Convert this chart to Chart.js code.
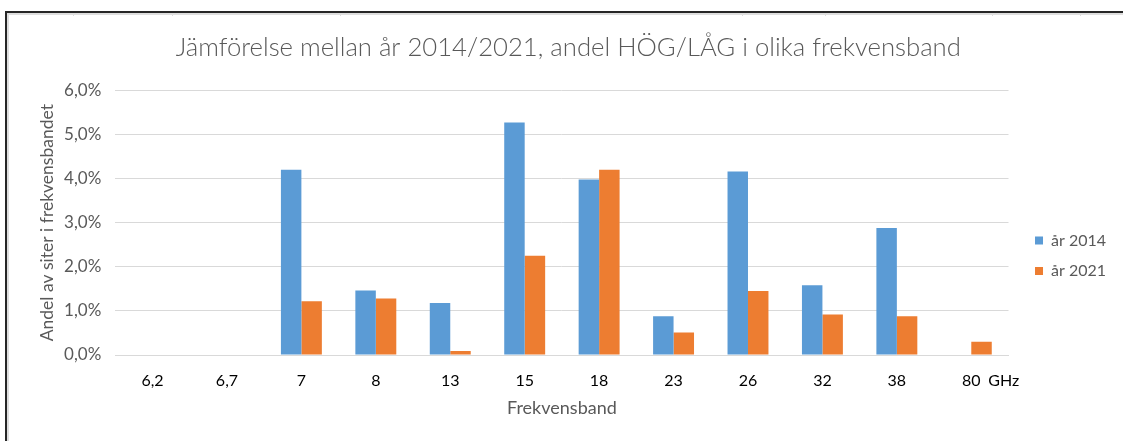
<!DOCTYPE html>
<html>
<head>
<meta charset="utf-8">
<script src="https://cdn.jsdelivr.net/npm/chart.js"></script>
<style>
  body { margin: 0; background: #fff; width: 1123px; height: 441px; overflow: hidden; position: relative; }
  #frame { position: absolute; left: 5px; top: 11px; right: 0; bottom: 0; border-top: 2px solid #262626; border-left: 2px solid #262626; }
  #inner { position: absolute; left: 0; top: 0; right: 0; bottom: 0; border-top: 2px solid #dedede; border-left: 2px solid #dedede; }
  .stub { position: absolute; top: 13px; width: 1px; height: 3px; background: #dedede; }
  #wrap { position: absolute; left: 9px; top: 15px; width: 1114px; height: 426px; }
</style>
</head>
<body>
<div id="frame"><div id="inner"></div></div>
<div class="stub" style="left:73px"></div>
<div class="stub" style="left:172px"></div>
<div class="stub" style="left:340px"></div>
<div class="stub" style="left:742px"></div>
<div class="stub" style="left:825px"></div>
<div class="stub" style="left:992px"></div>
<div class="stub" style="left:1080px"></div>
<div id="wrap"><canvas id="bandChart"></canvas></div>
<script>
// frekvensband (GHz) och andel siter i procent
const categories = ['6,2', '6,7', '7', '8', '13', '15', '18', '23', '26', '32', '38', '80'];
const share2014 = [0, 0, 4.2, 1.46, 1.18, 5.27, 3.98, 0.88, 4.16, 1.58, 2.88, 0];
const share2021 = [0, 0, 1.22, 1.28, 0.09, 2.25, 4.2, 0.51, 1.45, 0.92, 0.88, 0.3];
const yTicks = [0, 1, 2, 3, 4, 5, 6];
const unitText = 'GHz';

const grey = '#595959';
const xFontSize = 16;
const xTickPad = 8;

// skriver "GHz" efter sista kategorin
const unitLabel = {
  id: 'unitLabel',
  afterDraw(chart) {
    const x = chart.scales.x;
    const px = x.getPixelForTick(categories.length - 1);
    const y = x.top + 8 + xTickPad + xFontSize * 0.6;
    const ctx = chart.ctx;
    ctx.save();
    ctx.font = xFontSize + 'px Lato';
    ctx.fillStyle = '#000';
    ctx.textAlign = 'left';
    ctx.textBaseline = 'middle';
    ctx.fillText(unitText, px + 17, y);
    ctx.restore();
  }
};

// flyttar legenden lite åt höger
const legendShift = {
  id: 'legendShift',
  afterLayout(chart) {
    chart.legend.left += 12;
    chart.legend.right += 12;
  }
};

const ctx = document.getElementById('bandChart').getContext('2d');
new Chart(ctx, {
  type: 'bar',
  data: {
    labels: categories,
    datasets: [
      {
        label: 'år 2014',
        data: share2014,
        backgroundColor: '#5B9BD5',
        borderWidth: 0,
      },
      {
        label: 'år 2021',
        data: share2021,
        backgroundColor: '#ED7D31',
        borderWidth: 0,
      },
    ],
  },
  options: {
    responsive: true,
    maintainAspectRatio: false,
    animation: false,
    categoryPercentage: 0.55,
    barPercentage: 1.0,
    layout: {
      padding: { top: 8, left: 23.5, right: 19, bottom: 0 },
    },
    plugins: {
      title: {
        display: true,
        text: 'Jämförelse mellan år 2014/2021, andel HÖG/LÅG i olika frekvensband',
        color: grey,
        font: { family: 'Lato', size: 25.7, weight: 300 },
        padding: { top: 9.5, bottom: 27 },
      },
      legend: {
        position: 'right',
        title: { display: true, text: '', padding: { top: 0, bottom: 33 } },
        labels: {
          boxWidth: 8,
          boxHeight: 8,
          padding: 14.5,
          color: grey,
          font: { family: 'Lato', size: 16 },
        },
      },
      tooltip: { enabled: false },
    },
    scales: {
      x: {
        grid: { display: false },
        border: { color: '#d9d9d9' },
        ticks: {
          color: '#000',
          padding: xTickPad,
          maxRotation: 0,
          autoSkip: false,
          font: { family: 'Lato', size: xFontSize },
        },
        title: {
          display: true,
          text: 'Frekvensband',
          color: grey,
          font: { family: 'Lato', size: 18 },
          padding: { top: -1, bottom: 22.2 },
        },
      },
      y: {
        min: 0,
        max: 6,
        afterBuildTicks: (axis) => {
          axis.ticks = yTicks.map((v) => ({ value: v }));
        },
        ticks: {
          color: grey,
          padding: 14,
          font: { family: 'Lato', size: 17 },
          callback: (v) => v.toFixed(1).replace('.', ',') + '%',
        },
        grid: { color: '#d9d9d9', drawTicks: false },
        border: { display: false },
        title: {
          display: true,
          text: 'Andel av siter i frekvensbandet',
          color: grey,
          font: { family: 'Lato', size: 17.5 },
          padding: { top: 4, bottom: -7.4 },
        },
      },
    },
  },
  plugins: [unitLabel, legendShift],
});
</script>
</body>
</html>
